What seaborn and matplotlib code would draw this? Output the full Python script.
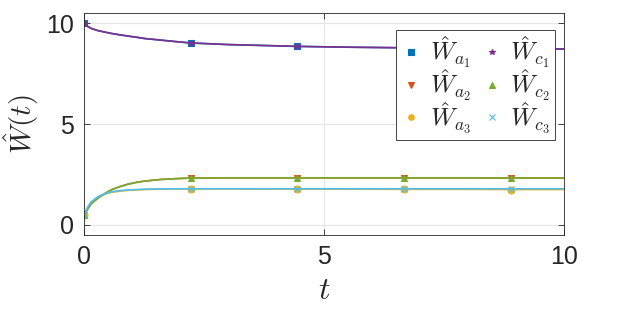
import numpy as np
import pandas as pd
import matplotlib
matplotlib.use("Agg")
import matplotlib.pyplot as plt
import seaborn as sns

t = [0, 0.08, 0.15, 0.29, 0.45, 0.57, 0.75, 0.92, 1.1, 1.26, 1.6, 1.9,
     2.22, 3.0, 4.44, 5.5, 6.67, 8.0, 8.89, 10.0]
W_a1 = [10.0, 9.83, 9.74, 9.63, 9.55, 9.49, 9.42, 9.36, 9.30, 9.24, 9.16, 9.09,
        9.02, 8.94, 8.85, 8.81, 8.78, 8.75, 8.74, 8.72]
W_c1 = W_a1
W_a2 = [0.5, 0.80, 1.05, 1.33, 1.58, 1.74, 1.90, 2.02, 2.11, 2.17, 2.25, 2.29,
        2.32, 2.33, 2.33, 2.33, 2.33, 2.33, 2.32, 2.32]
W_c2 = W_a2
W_a3 = [0.5, 0.88, 1.12, 1.37, 1.53, 1.61, 1.67, 1.71, 1.73, 1.75, 1.77, 1.78,
        1.78, 1.78, 1.77, 1.77, 1.76, 1.76, 1.75, 1.75]
W_c3 = [0.5, 0.90, 1.15, 1.40, 1.56, 1.64, 1.70, 1.73, 1.75, 1.77, 1.78, 1.79,
        1.79, 1.79, 1.79, 1.79, 1.79, 1.79, 1.79, 1.79]
marker_t = [0, 2.22, 4.44, 6.67, 8.89]

labels = [r'$\hat{W}_{a_1}$', r'$\hat{W}_{a_2}$', r'$\hat{W}_{a_3}$',
          r'$\hat{W}_{c_1}$', r'$\hat{W}_{c_2}$', r'$\hat{W}_{c_3}$']
series = [W_a1, W_a2, W_a3, W_c1, W_c2, W_c3]
colors = ['#0072BD', '#D95319', '#EDB120', '#7E2F8E', '#77AC30', '#4DBEEE']
markers = ['s', 'v', 'o', '*', '^', 'x']
msizes = [5, 5, 5, 5, 5, 4]

sns.set_style("ticks")
plt.rcParams['font.family'] = ['Liberation Sans', 'DejaVu Sans']
plt.rcParams['mathtext.fontset'] = 'cm'

fig = plt.figure(figsize=(6.23, 3.12), dpi=100)
ax = fig.add_axes([0.135, 0.247, 0.770, 0.711])

mark_idx = [i for i, v in enumerate(t) if v in marker_t]
handles = []
for k, (lab, vals, c, m, ms) in enumerate(zip(labels, series, colors, markers, msizes)):
    df = pd.DataFrame({'t': t, 'W': vals})
    sns.lineplot(data=df, x='t', y='W', color=c, linewidth=1.2, ax=ax,
                 legend=False, marker=m, markevery=mark_idx, markersize=ms,
                 markeredgecolor=c, markerfacecolor=c, markeredgewidth=0.8,
                 zorder=2 + k * 0.1)
    handles.append(plt.Line2D([], [], linestyle='none', marker=m, color=c,
                              markersize=4, markeredgewidth=0.8))

ax.set_xlim(0, 10)
ax.set_ylim(-0.5, 10.5)
ax.set_xticks([0, 5, 10])
ax.set_yticks([0, 5, 10])
ax.grid(True, color='#e6e6e6', linewidth=0.8)
ax.set_axisbelow(True)
for sp in ax.spines.values():
    sp.set_visible(True)
    sp.set_color('#262626')
    sp.set_linewidth(0.6)
ax.tick_params(direction='in', length=4, width=0.6, colors='#262626',
               labelsize=18, top=True, right=True, pad=7)
ax.set_xlabel(r'$t$', fontsize=23, labelpad=5)
ax.set_ylabel(r'$\hat{W}(t)$', fontsize=21, labelpad=4)

leg = ax.legend(handles, labels, ncol=2, loc='upper right',
                bbox_to_anchor=(0.982, 0.923), fontsize=18, frameon=True,
                fancybox=False, edgecolor='#262626', framealpha=1,
                handlelength=0.8, handletextpad=0.35, columnspacing=0.4,
                labelspacing=-0.1, borderpad=0.2, borderaxespad=0)
leg.get_frame().set_linewidth(0.6)

fig.savefig('out.png', dpi=100)
